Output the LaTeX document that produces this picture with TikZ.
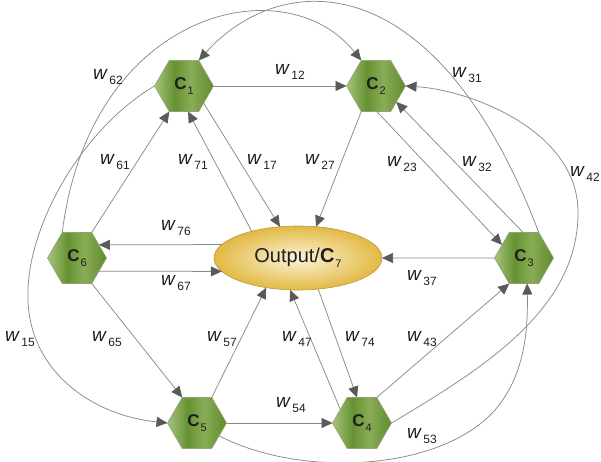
\documentclass[tikz,border=0pt]{standalone}
\usepackage{fontspec}
\setmainfont{Liberation Sans}
\usetikzlibrary{shapes.geometric,arrows.meta}
\definecolor{hexlight}{HTML}{A8C37E}
\definecolor{hexdark}{HTML}{669232}
\definecolor{hexmid}{HTML}{8AAC57}
\definecolor{hexdarkr}{HTML}{5F8B2B}
\definecolor{hexborder}{HTML}{8FA375}
\definecolor{ellin}{HTML}{FCF4D8}
\definecolor{ellout}{HTML}{E2B943}
\definecolor{ellborder}{HTML}{B9993F}
\definecolor{linegray}{HTML}{8A8A8A}
\definecolor{tipgray}{HTML}{5A5A5A}
\definecolor{txt}{HTML}{1E1E1E}
\pgfdeclarehorizontalshading{hexshade}{100bp}{color(0bp)=(hexlight); color(25bp)=(hexlight); color(42bp)=(hexdark); color(56bp)=(hexmid); color(75bp)=(hexdarkr); color(100bp)=(hexdarkr)}
\newcommand{\wsub}[1]{\textit{w}\kern1.5pt\raisebox{-5.5pt}{\fontsize{12}{12}\selectfont\upshape #1}}
\newcommand{\csub}[1]{\textbf{C}\kern1pt\raisebox{-5pt}{\fontsize{11}{11}\selectfont #1}}
\begin{document}
\begin{tikzpicture}[x=1pt,y=-1pt,
  hexnode/.style={regular polygon, regular polygon sides=6, minimum size=59pt,
    inner sep=0pt, outer sep=0pt, shading=hexshade, draw=hexborder, line width=0.6pt,
    font=\fontsize{17}{17}\selectfont, text=txt},
  outnode/.style={ellipse, minimum width=168pt, minimum height=64pt, inner sep=0pt, outer sep=0pt,
    inner color=ellin, outer color=ellout, draw=ellborder, line width=0.6pt,
    font=\fontsize{20}{20}\selectfont, text=txt},
  lbl/.style={font=\fontsize{19}{19}\selectfont, text=txt, inner sep=0pt},
  conn/.style={draw=linegray, line width=0.75pt,
    -{Triangle[length=11pt,width=10pt,fill=tipgray,color=tipgray]}}
]
\useasboundingbox (0,0) rectangle (601,462);
\fill[white] (0,0) rectangle (601,462);

\node[hexnode] (C1) at (184,86) {\csub{1}};
\node[hexnode] (C2) at (376,86) {\csub{2}};
\node[hexnode] (C3) at (524,258) {\csub{3}};
\node[hexnode] (C4) at (362,423) {\csub{4}};
\node[hexnode] (C5) at (197,423) {\csub{5}};
\node[hexnode] (C6) at (77,258) {\csub{6}};
\node[outnode] (E) at (298,258) {Output/\csub{7}};

% straight connectors
\draw[conn] (C1.0) -- (C2.180);
\draw[conn] (C6.60) -- (C1.240);
\draw[conn] (E.150) -- (C1.-81);
\draw[conn] (C1.-41) -- (E.120);
\draw[conn] (C2.240) -- (E.60);
\draw[conn] (C2.-88) -- (C3.149);
\draw[conn] (C3.92) -- (C2.-38);
\draw[conn] (C3.180) -- (E.0);
\draw[conn] (E.170) -- (C6.31);
\draw[conn] (C6.-31) -- (E.190);
\draw[conn] (C6.300) -- (C5.120);
\draw[conn] (C5.60) -- (E.223);
\draw[conn] (C4.148) -- (E.256);
\draw[conn] (E.-57) -- (C4.101);
\draw[conn] (C5.0) -- (C4.180);
\draw[conn] (C4.60) -- (C3.240);

% curved connectors
\draw[conn] (C6.120) .. controls (90,10) and (285,-35) .. (C2.120);
\draw[conn] (C3.60) .. controls (435,-40) and (280,-30) .. (C1.60);
\draw[conn] (C4.0) .. controls (480,370) and (580,310) .. (578,210)
  .. controls (576,130) and (470,90) .. (C2.0);
\draw[conn] (C1.180) .. controls (80,130) and (25,230) .. (28,300)
  .. controls (30,370) and (90,415) .. (C5.180);
\draw[conn] (C5.-30) .. controls (300,478) and (440,472) .. (495,410)
  .. controls (525,375) and (528,330) .. (C3.-83);

% labels
\node[lbl] (l62) at (108,77) {\wsub{62}};
\node[lbl] (l12) at (290,72) {\wsub{12}};
\node[lbl] (l31) at (467,75) {\wsub{31}};
\node[lbl] (l61) at (115,162) {\wsub{61}};
\node[lbl] (l71) at (193,162) {\wsub{71}};
\node[lbl] (l17) at (262,162) {\wsub{17}};
\node[lbl] (l27) at (320,162) {\wsub{27}};
\node[lbl] (l23) at (402,164) {\wsub{23}};
\node[lbl] (l32) at (477,164) {\wsub{32}};
\node[lbl, anchor=east] (l42) at (600,174) {\wsub{42}};
\node[lbl] (l76) at (176,228) {\wsub{76}};
\node[lbl] (l67) at (176,283) {\wsub{67}};
\node[lbl] (l37) at (422,278) {\wsub{37}};
\node[lbl] (l15) at (20,339) {\wsub{15}};
\node[lbl] (l65) at (107,339) {\wsub{65}};
\node[lbl] (l57) at (222,339) {\wsub{57}};
\node[lbl] (l47) at (297,339) {\wsub{47}};
\node[lbl] (l74) at (360,339) {\wsub{74}};
\node[lbl] (l43) at (422,339) {\wsub{43}};
\node[lbl] (l54) at (291,405) {\wsub{54}};
\node[lbl] (l53) at (422,436) {\wsub{53}};
\end{tikzpicture}
\end{document}
